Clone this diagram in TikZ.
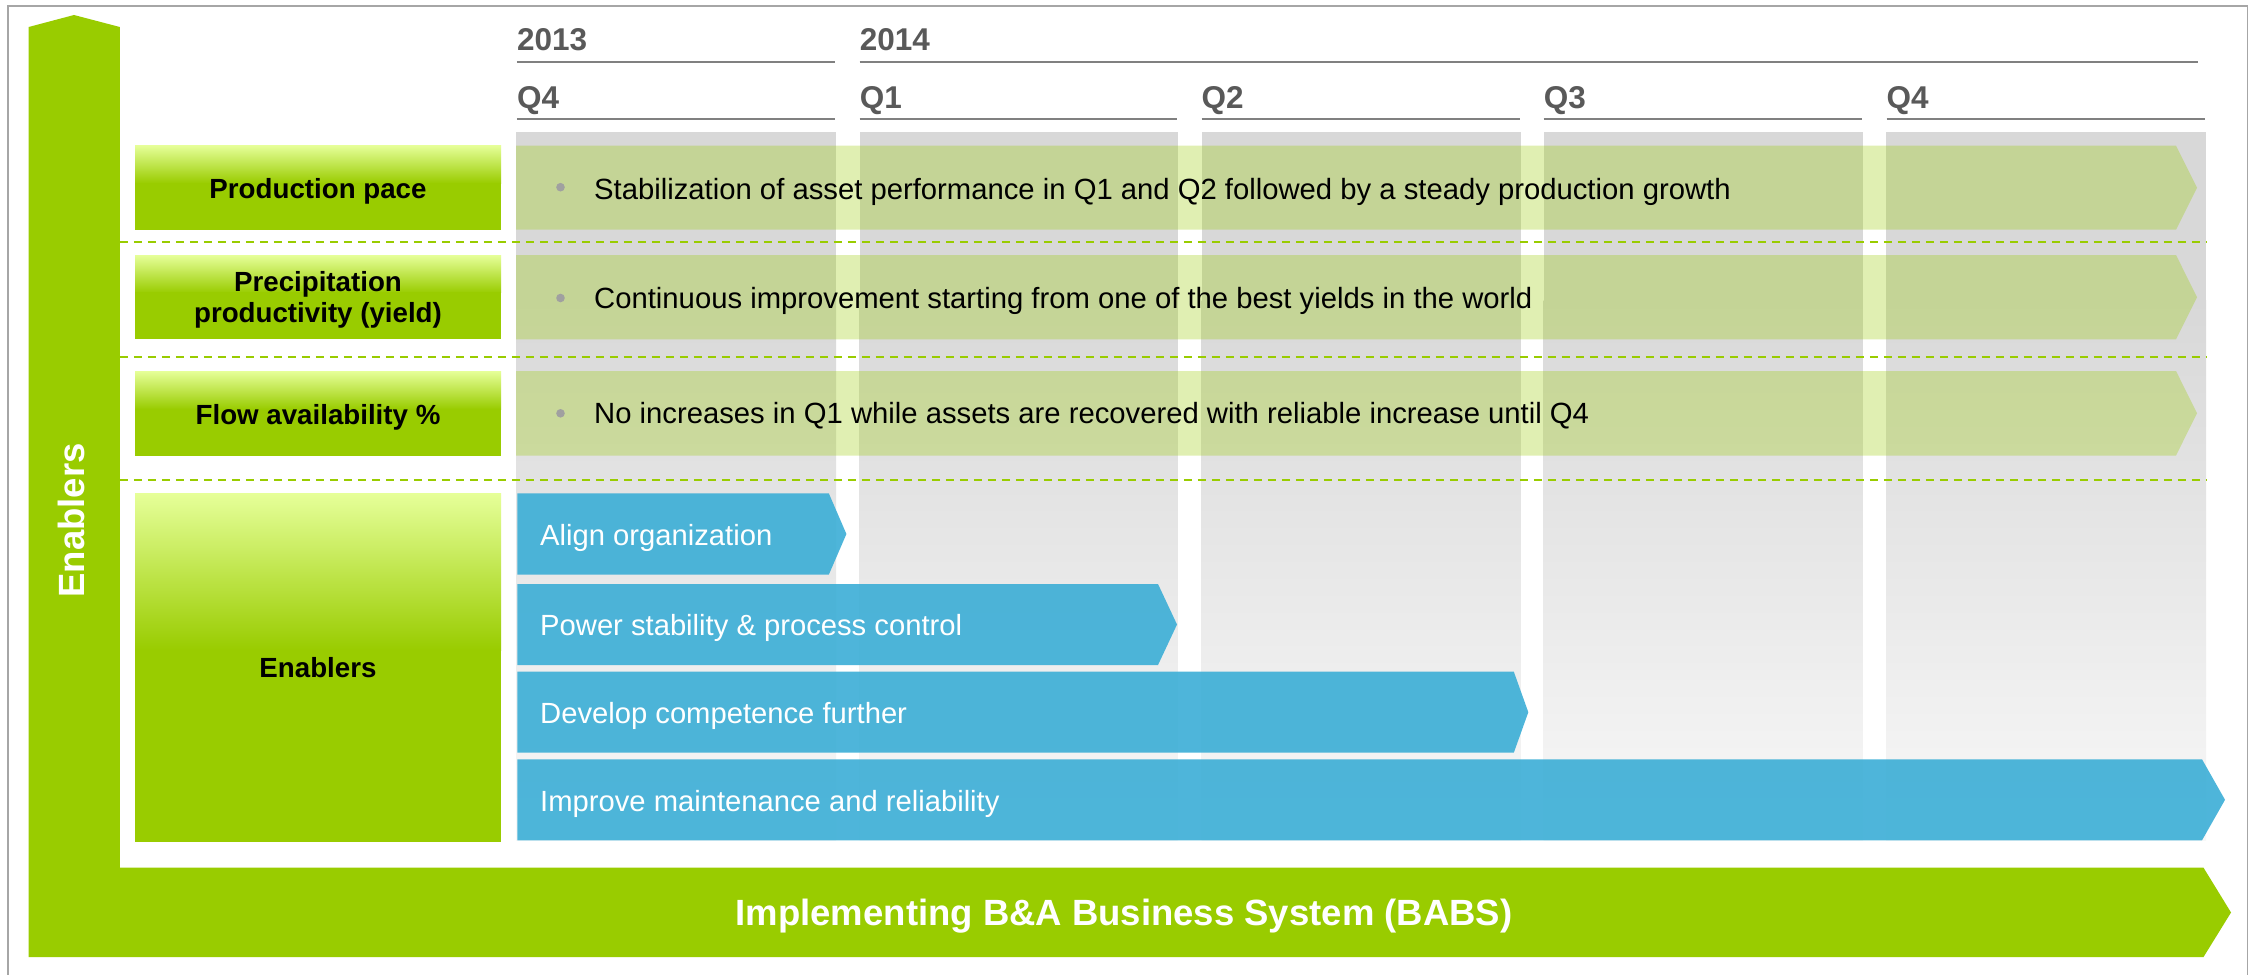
\documentclass[tikz,border=0pt]{standalone}
\usepackage{fontspec}
\setmainfont{Liberation Sans}
\definecolor{lime}{HTML}{99CC00}
\definecolor{limelight}{HTML}{E6FF99}
\definecolor{hdrgray}{HTML}{595959}
\definecolor{rulegray}{HTML}{808080}
\definecolor{framegray}{HTML}{A6A6A6}
\definecolor{colgray}{HTML}{D8D8D8}
\definecolor{colgraylight}{HTML}{F8F8F8}
\definecolor{barblue}{HTML}{3BAED6}
\definecolor{bulletgray}{HTML}{A0A0A0}
\tikzset{
  hdr/.style={anchor=base west, inner sep=0, text=hdrgray, font=\fontsize{31.5}{36}\selectfont\bfseries},
  hrule/.style={draw=rulegray, line width=2.2pt},
  lbl/.style={inner sep=0, text=black, font=\fontsize{27.7}{31}\selectfont\bfseries, align=center},
  bodytxt/.style={anchor=base west, inner sep=0, text=black, font=\fontsize{29.25}{34}\selectfont},
  bluetxt/.style={anchor=base west, inner sep=0, text=white, font=\fontsize{29.2}{34}\selectfont},
  bigtxt/.style={inner sep=0, text=white, font=\fontsize{36.5}{40}\selectfont\bfseries},
  rowdash/.style={draw=lime, line width=2pt, dash pattern=on 8pt off 6pt},
  greenbar/.style={fill=lime, fill opacity=0.3},
  bluebar/.style={fill=barblue, fill opacity=0.9},
  bulletdot/.style={fill=bulletgray, draw=none},
  framestyle/.style={draw=framegray, line width=1.5pt},
}
\newcommand\mylblbox[2]{%
  \pgfmathsetmacro\mymidy{#1+0.45*(#2-#1)}%
  \shade[top color=limelight, bottom color=lime] (135,#1) rectangle (501,\mymidy);
  \fill[lime] (135,\mymidy-0.5) rectangle (501,#2);
}
\newcommand\mycolumn[2]{%
  \fill[colgray] (#1,132.3) rectangle (#2,301);
  \shade[top color=colgray, bottom color=colgraylight] (#1,300) rectangle (#2,840);
}
\begin{document}
\begin{tikzpicture}[x=1pt,y=-1pt]
\useasboundingbox (0,0) rectangle (2253,974);
\fill[white] (0,0) rectangle (2253,974);
% frame
\draw[framestyle] (8,990) -- (8,6) -- (2247.5,6) -- (2247.5,990);
% green L shape
\fill[lime] (28.7,27) -- (74,15) -- (119.8,27) -- (119.8,867.7) -- (2203.5,867.7)
  -- (2231,912.5) -- (2203.5,957) -- (28.7,957) -- cycle;
% columns
\mycolumn{516}{836}
\mycolumn{859.5}{1177.5}
\mycolumn{1201.5}{1520.5}
\mycolumn{1543.7}{1862.8}
\mycolumn{1886}{2206}
% header
\node[hdr] (y2013) at (516.8,51) {2013};
\node[hdr] (y2014) at (859.7,51) {2014};
\draw[hrule] (516.8,62) -- (835,62);
\draw[hrule] (859.7,62) -- (2198,62);
\node[hdr] (q4a) at (516.8,108.3) {Q4};
\node[hdr] (q1) at (859.7,108.3) {Q1};
\node[hdr] (q2) at (1201.5,108.3) {Q2};
\node[hdr] (q3) at (1543.7,108.3) {Q3};
\node[hdr] (q4b) at (1886.5,108.3) {Q4};
\draw[hrule] (516.8,119.3) -- (835,119.3);
\draw[hrule] (859.7,119.3) -- (1177,119.3);
\draw[hrule] (1201.5,119.3) -- (1520,119.3);
\draw[hrule] (1543.7,119.3) -- (1862,119.3);
\draw[hrule] (1886.5,119.3) -- (2205,119.3);
% dashed separators
\draw[rowdash] (119.8,241.7) -- (2206,241.7);
\draw[rowdash] (119.8,357.3) -- (2206,357.3);
\draw[rowdash] (119.8,479.5) -- (2206,479.5);
% label boxes
\mylblbox{145.3}{229.7}
\mylblbox{255}{339.3}
\mylblbox{371}{455.7}
\mylblbox{493.3}{841.7}
% green translucent bars
\fill[greenbar] (516,145.7) -- (2176,145.7) -- (2197,187.7) -- (2176,229.7) -- (516,229.7) -- cycle;
\fill[greenbar] (516,255) -- (2176,255) -- (2197,297.2) -- (2176,339.3) -- (516,339.3) -- cycle;
\fill[greenbar] (516,371) -- (2176,371) -- (2197,413.3) -- (2176,455.5) -- (516,455.5) -- cycle;
% blue arrows
\fill[bluebar] (517.3,493.3) -- (828.8,493.3) -- (846.4,534) -- (828.8,574.7) -- (517.3,574.7) -- cycle;
\fill[bluebar] (517.3,584) -- (1158,584) -- (1177,624.5) -- (1158,665) -- (517.3,665) -- cycle;
\fill[bluebar] (517.3,671.7) -- (1513.8,671.7) -- (1528.3,712.2) -- (1513.8,752.7) -- (517.3,752.7) -- cycle;
\fill[bluebar] (517.3,759.3) -- (2202,759.3) -- (2225,799.8) -- (2202,840.3) -- (517.3,840.3) -- cycle;
% labels
\node[lbl, anchor=base] (lprod) at (318,198.3) {Production pace};
\node[lbl, anchor=center] (lprec) at (318,300) {Precipitation\\productivity (yield)};
\node[lbl, anchor=base] (lflow) at (318,424) {Flow availability \%};
\node[lbl, anchor=base] (lenab) at (318,677.7) {Enablers};
% bullet rows
\fill[bulletdot] (560.5,187.2) circle (4.3);
\node[bodytxt] (t1) at (594,199) {Stabilization of asset performance in Q1 and Q2 followed by a steady production growth};
\fill[bulletdot] (560.5,298) circle (4.3);
\node[bodytxt] (t2) at (594,308.3) {Continuous improvement starting from one of the best yields in the world};
\fill[bulletdot] (560.5,413.3) circle (4.3);
\node[bodytxt] (t3) at (594,423.3) {No increases in Q1 while assets are recovered with reliable increase until Q4};
% blue texts
\node[bluetxt] (b1) at (540,545) {Align organization};
\node[bluetxt] (b2) at (540,635) {Power stability \& process control};
\node[bluetxt] (b3) at (540,723.3) {Develop competence further};
\node[bluetxt] (b4) at (540,811) {Improve maintenance and reliability};
% big texts
\node[bigtxt, rotate=90, anchor=base] (vlabel) at (84,520.5) {Enablers};
\node[bigtxt, anchor=base] (babs) at (1124,925) {Implementing B\&A Business System (BABS)};
\end{tikzpicture}
\end{document}
